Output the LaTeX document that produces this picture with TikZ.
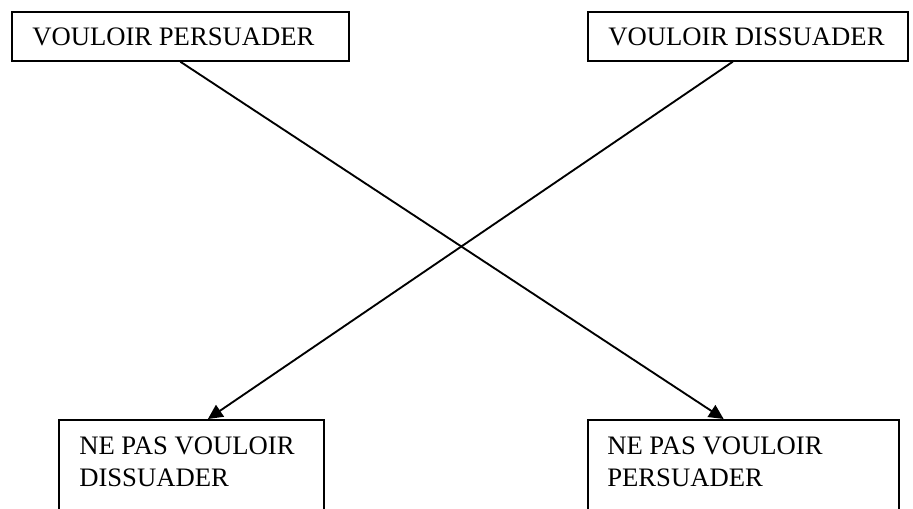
\documentclass[tikz,border=0pt]{standalone}
\usepackage{fontspec}
\setmainfont{Liberation Serif}
\usetikzlibrary{arrows.meta,calc}
\begin{document}
\begin{tikzpicture}[x=0.75pt,y=-0.75pt,
  frame/.style={draw,line width=1.3pt,rectangle,inner sep=0pt,anchor=north west},
  boxtext/.style={anchor=base west,inner sep=0pt,font=\fontsize{20}{24}\selectfont},
  link/.style={line width=1.4pt,-{Triangle[length=11pt,width=10.5pt]}}]
\useasboundingbox (0,0) rectangle (913,509);

% frames
\node[frame,minimum width=252.75pt,minimum height=36.75pt] (tl) at (11,11) {};
\node[frame,minimum width=240pt,minimum height=36.75pt] (tr) at (587,11) {};
\node[frame,minimum width=198.75pt,minimum height=75pt] (bl) at (58,419) {};
\node[frame,minimum width=233.25pt,minimum height=75pt] (br) at (587,419) {};

% texts
\node[boxtext] (tltext) at ($(tl.north west)+(21,35)$) {VOULOIR PERSUADER};
\node[boxtext] (trtext) at ($(tr.north west)+(21,35)$) {VOULOIR DISSUADER};
\node[boxtext] (bltext1) at ($(bl.north west)+(21,35)$) {NE PAS VOULOIR};
\node[boxtext] (bltext2) at ($(bl.north west)+(21,67)$) {DISSUADER};
\node[boxtext] (brtext1) at ($(br.north west)+(20,35)$) {NE PAS VOULOIR};
\node[boxtext] (brtext2) at ($(br.north west)+(20,67)$) {PERSUADER};

% crossing arrows
\draw[link] (tl.south) -- ($(br.north west)!0.437!(br.north east)$);
\draw[link] ($(tr.south west)!0.453!(tr.south east)$) -- ($(bl.north west)!0.562!(bl.north east)$);
\end{tikzpicture}
\end{document}
